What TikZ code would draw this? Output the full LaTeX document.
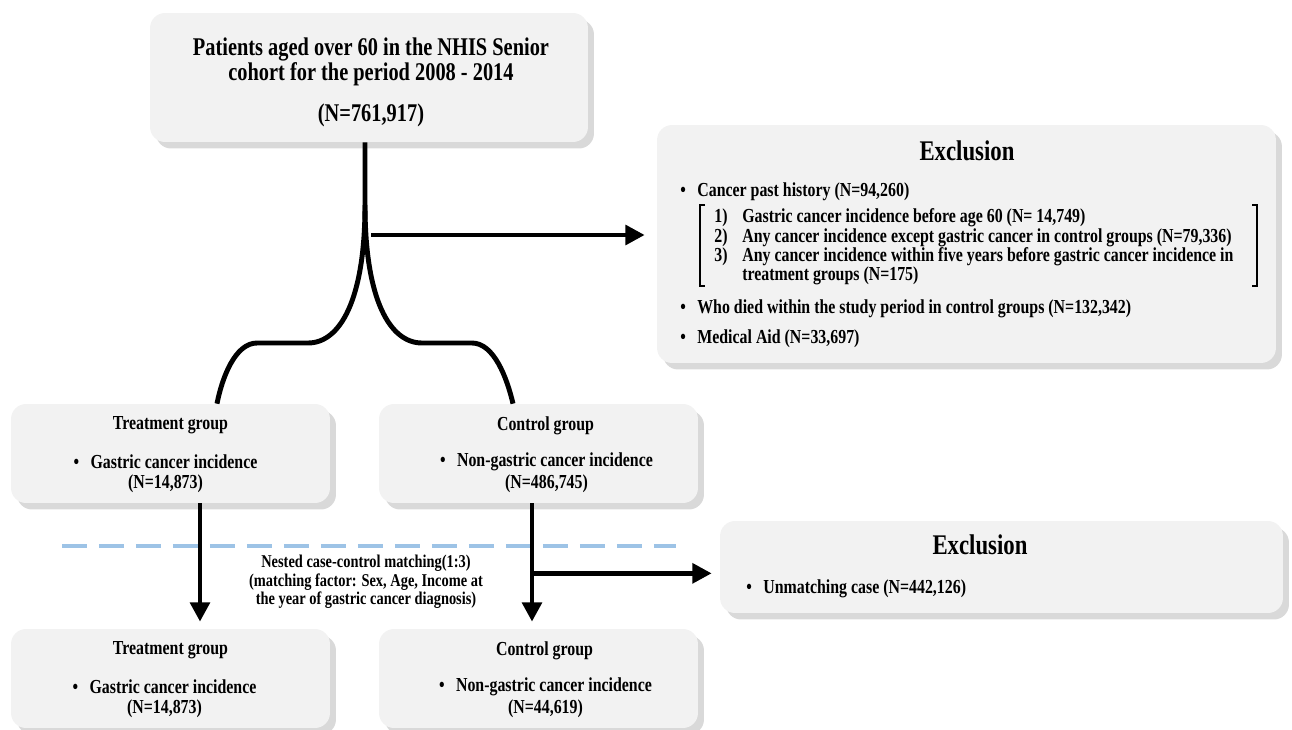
\documentclass[tikz,border=0pt]{standalone}
\usepackage{fontspec}
\setmainfont{Liberation Serif}[FakeStretch=0.8]
\usepackage{tikz}
\usetikzlibrary{arrows.meta}
\usetikzlibrary{calc}
\usetikzlibrary{shadows}
\definecolor{boxfill}{HTML}{F2F2F2}
\definecolor{boxshadow}{HTML}{D9D9D9}
\definecolor{dashblue}{HTML}{9DC3E6}
\newcommand{\topfont}{\fontsize{14.5}{17}\selectfont\bfseries}
\newcommand{\headfont}{\fontsize{16.2}{19}\selectfont\bfseries}
\newcommand{\bodyfont}{\fontsize{11.3}{12}\selectfont\bfseries}
\newcommand{\notefont}{\fontsize{10.25}{11}\selectfont\bfseries}
\newcommand{\blt}{\makebox[0.34cm][l]{\textbullet}}
\tikzset{basic box/.style={fill=boxfill,
                           rounded corners=0.3cm,
                           inner sep=0pt,
                           general shadow={fill=boxshadow,
                                           shadow xshift=0.12cm,
                                           shadow yshift=-0.13cm}}}
\tikzset{flow/.style={draw,
                      line width=2.8pt,
                      line join=round}}
\tikzset{flow arrow/.style={flow,
                            -{Triangle[length=11pt,width=11pt]}}}

\begin{document}
\begin{tikzpicture}
      [
      x=0.02cm,y=-0.02cm,
      txt/.style={inner sep=0pt,font=\bodyfont},
      ]
      \clip (0,0) rectangle (1292,730);

      % boxes
      \node [basic box,minimum width=8.76cm,minimum height=2.58cm] (top) at (369,77.5) {};
      \node [basic box,minimum width=12.38cm,minimum height=4.76cm] (excl1) at (966.5,244) {};
      \node [basic box,minimum width=6.38cm,minimum height=1.98cm] (trt1) at (170.5,453.5) {};
      \node [basic box,minimum width=6.38cm,minimum height=1.98cm] (ctl1) at (538.5,453.5) {};
      \node [basic box,minimum width=11.26cm,minimum height=1.84cm] (excl2) at (1001.5,567) {};
      \node [basic box,minimum width=6.38cm,minimum height=1.98cm] (trt2) at (170.5,678.5) {};
      \node [basic box,minimum width=6.38cm,minimum height=1.98cm] (ctl2) at (538.5,678.5) {};

      % cohort
      \node [txt,font=\topfont] (top1) at (371,49) {Patients aged over 60 in the NHIS Senior};
      \node [txt,font=\topfont] (top2) at (371,74) {cohort for the period 2008 - 2014};
      \node [txt,font=\topfont] (top3) at (371,115) {(N=761,917)};

      % first exclusion
      \node [txt,font=\headfont] (exhead1) at (967,151) {Exclusion};
      \node [txt,anchor=west] (exa) at (680,192) {\blt Cancer past history (N=94,260)};
      \foreach \n/\y/\t in
      {
      1)/218/{Gastric cancer incidence before age 60 (N= 14,749)},
      2)/238/{Any cancer incidence except gastric cancer in control groups (N=79,336)},
      3)/257/{Any cancer incidence within five years before gastric cancer incidence in}
      }
      {
      \node [txt,anchor=west] (ex\y) at (714,\y) {\makebox[0.56cm][l]{\n}\t};
      }
      \node [txt,anchor=west] (ex276) at (742,276) {treatment groups (N=175)};
      \node [txt,anchor=west] (exb) at (680,309) {\blt Who died within the study period in control groups (N=132,342)};
      \node [txt,anchor=west] (exc) at (680,339) {\blt Medical Aid (N=33,697)};
      \draw [line width=0.8pt] (705,205) -- (700,205) -- (700,286) -- (705,286);
      \draw [line width=0.8pt] (1252,205) -- (1257,205) -- (1257,286) -- (1252,286);

      % groups
      \foreach \b/\h/\i/\n/\dx/\hx in
      {
      trt1/Treatment group/Gastric cancer incidence/{(N=14,873)}/-5/0,
      ctl1/Control group/Non-gastric cancer incidence/{(N=486,745)}/8/7,
      trt2/Treatment group/Gastric cancer incidence/{(N=14,873)}/-6/0,
      ctl2/Control group/Non-gastric cancer incidence/{(N=44,619)}/7/6
      }
      {
      \node [txt] (\b h) at ($(\b.north)+(\hx,22)$) {\h};
      \node [txt] (\b i) at ($(\b.north)+(\dx,58)$) {\blt\i};
      \node [txt] (\b n) at ($(\b.north)+(\dx,80)$) {\n};
      }

      % matching
      \draw [dashblue,line width=2.3pt,dash pattern=on 0.5cm off 0.24cm] (62,546) -- (676,546);
      \node [txt,font=\notefont] (match1) at (366,563) {Nested case-control matching(1:3)};
      \node [txt,font=\notefont] (match2) at (366,582) {(matching factor: Sex, Age, Income at};
      \node [txt,font=\notefont] (match3) at (366,600) {the year of gastric cancer diagnosis)};

      % second exclusion
      \node [txt,font=\headfont] (exhead2) at (980,545) {Exclusion};
      \node [txt,anchor=west] (exd) at (746,589) {\blt Unmatching case (N=442,126)};

      % split
      \coordinate (split) at (365,205);
      \path [flow] (top.south -| split) -- (split)
      .. controls (365,300) and (340,343) .. (308,343) -- (257,343)
      .. controls (235,343) and (222,378) .. ($(trt1.north)+(46.5,0)$);
      \path [flow] (split)
      .. controls (365,300) and (390,343) .. (422,343) -- (472,343)
      .. controls (494,343) and (507,378) .. ($(ctl1.north)+(-25.5,0)$);

      % arrows
      \coordinate (exbranch) at (371,235);
      \path [flow arrow,shorten >=0.24cm] (exbranch) -- (exbranch -| excl1.west);
      \path [flow arrow,shorten >=0.14cm] ($(trt1.south)+(29.5,0)$) -- ($(trt2.north)+(29.5,0)$);
      \path [flow arrow,shorten >=0.14cm] ($(ctl1.south)+(-6.5,0)$) -- ($(ctl2.north)+(-6.5,0)$);
      \coordinate (mbranch) at ($(ctl1.south)+(-6.5,70)$);
      \path [flow arrow,shorten >=0.16cm] (mbranch) -- (mbranch -| excl2.west);

    \end{tikzpicture}
\end{document}
